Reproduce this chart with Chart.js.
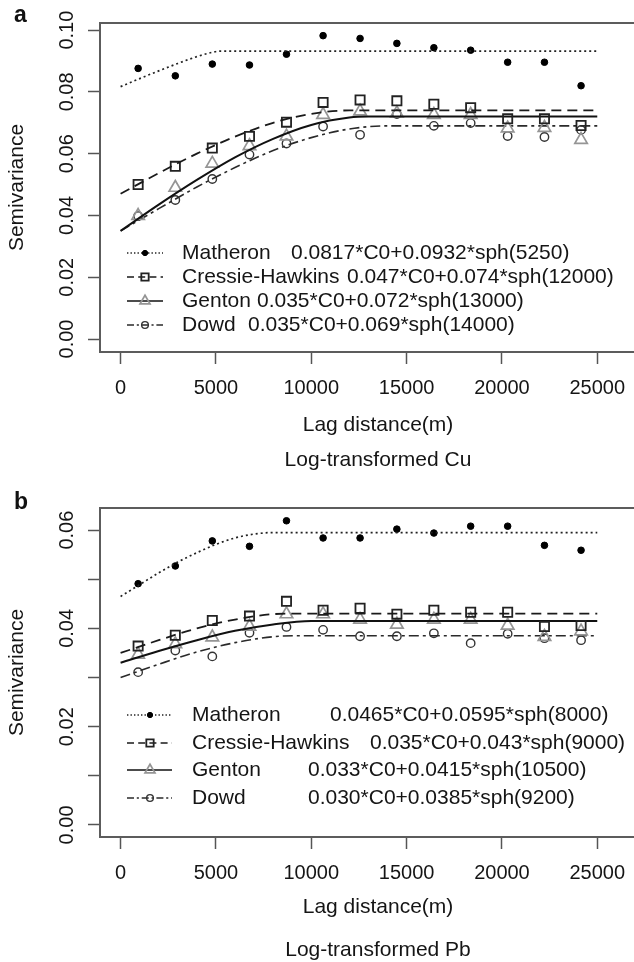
<!DOCTYPE html>
<html>
<head>
<meta charset="utf-8">
<script src="https://cdn.jsdelivr.net/npm/chart.js@4.4.1/dist/chart.umd.min.js"></script>
<style>
  html, body { margin: 0; padding: 0; background: #fff; }
  body { width: 634px; height: 962px; overflow: hidden; position: relative; font-family: "Liberation Sans", Arial, sans-serif; }
  .panel { position: absolute; left: 0; width: 690px; height: 481px; }
  .tag { position: absolute; left: 14px; font-weight: bold; font-size: 23px; color: #111; }
</style>
</head>
<body>
<div class="panel" style="top:0"><canvas id="chartCu" width="690" height="481"></canvas></div>
<div class="panel" style="top:481px"><canvas id="chartPb" width="690" height="481"></canvas></div>
<div class="tag" style="top:1px">a</div>
<div class="tag" style="top:488px">b</div>
<script>
const FONT = '"Liberation Sans", Arial, sans-serif';
const INK = '#151515';

// lag classes of the experimental semivariograms (m)
const lags = [920, 2870, 4810, 6760, 8700, 10620, 12560, 14490, 16430, 18360, 20300, 22230, 24150];
const xTicks = [0, 5000, 10000, 15000, 20000, 25000];

// a: log-transformed Cu
const matheronCu = [0.0876, 0.0852, 0.0890, 0.0887, 0.0922, 0.0982, 0.0973, 0.0957, 0.0943, 0.0935, 0.0896, 0.0896, 0.0820];
const cressieCu  = [0.0500, 0.0559, 0.0618, 0.0656, 0.0702, 0.0766, 0.0774, 0.0771, 0.0760, 0.0749, 0.0713, 0.0713, 0.0691];
const gentonCu   = [0.0399, 0.0490, 0.0568, 0.0625, 0.0656, 0.0726, 0.0737, 0.0731, 0.0726, 0.0726, 0.0682, 0.0684, 0.0645];
const dowdCu     = [0.0398, 0.0450, 0.0518, 0.0597, 0.0633, 0.0688, 0.0661, 0.0728, 0.0690, 0.0699, 0.0657, 0.0654, 0.0677];

// fitted spherical models
const matheronCuFitX = [0, 1000, 2000, 3000, 4000, 4800, 5250, 25000];
const matheronCuFitY = [0.0817, 0.0843, 0.0868, 0.0892, 0.0914, 0.0928, 0.0932, 0.0932];
const cressieCuFitX  = [0, 2000, 4000, 6000, 8000, 10000, 12000, 25000];
const cressieCuFitY  = [0.0470, 0.0537, 0.0600, 0.0655, 0.0700, 0.0729, 0.0740, 0.0740];
const gentonCuFitX   = [0, 2000, 4000, 6000, 8000, 10000, 12000, 13000, 25000];
const gentonCuFitY   = [0.0350, 0.0435, 0.0515, 0.0588, 0.0648, 0.0693, 0.0717, 0.0720, 0.0720];
const dowdCuFitX     = [0, 2000, 4000, 6000, 8000, 10000, 12000, 14000, 25000];
const dowdCuFitY     = [0.0350, 0.0422, 0.0492, 0.0555, 0.0610, 0.0652, 0.0680, 0.0690, 0.0690];

const yTicksCu  = [0, 0.02, 0.04, 0.06, 0.08, 0.10];
const yLabelsCu = ['0.00', '0.02', '0.04', '0.06', '0.08', '0.10'];
const eqCu = [
  '0.0817*C0+0.0932*sph(5250)',
  '0.047*C0+0.074*sph(12000)',
  '0.035*C0+0.072*sph(13000)',
  '0.035*C0+0.069*sph(14000)'
];

// b: log-transformed Pb
const matheronPb = [0.0491, 0.0527, 0.0578, 0.0567, 0.0619, 0.0584, 0.0584, 0.0602, 0.0594, 0.0608, 0.0608, 0.0569, 0.0559];
const cressiePb  = [0.0364, 0.0386, 0.0416, 0.0425, 0.0455, 0.0437, 0.0441, 0.0429, 0.0437, 0.0433, 0.0433, 0.0404, 0.0406];
const gentonPb   = [0.0347, 0.0368, 0.0382, 0.0404, 0.0429, 0.0429, 0.0418, 0.0408, 0.0418, 0.0418, 0.0406, 0.0383, 0.0394];
const dowdPb     = [0.0311, 0.0355, 0.0343, 0.0391, 0.0403, 0.0397, 0.0384, 0.0384, 0.0390, 0.0370, 0.0389, 0.0380, 0.0376];

const matheronPbFitX = [0, 1000, 2000, 3000, 4000, 5000, 6000, 7000, 8000, 25000];
const matheronPbFitY = [0.0465, 0.0489, 0.0513, 0.0535, 0.0554, 0.0571, 0.0584, 0.0592, 0.0595, 0.0595];
const cressiePbFitX  = [0, 2000, 4000, 6000, 8000, 9000, 25000];
const cressiePbFitY  = [0.0350, 0.0376, 0.0400, 0.0418, 0.0429, 0.0430, 0.0430];
const gentonPbFitX   = [0, 2000, 4000, 6000, 8000, 10000, 10500, 25000];
const gentonPbFitY   = [0.0330, 0.0354, 0.0376, 0.0395, 0.0408, 0.0415, 0.0415, 0.0415];
const dowdPbFitX     = [0, 2000, 4000, 6000, 8000, 9200, 25000];
const dowdPbFitY     = [0.0300, 0.0327, 0.0352, 0.0371, 0.0383, 0.0385, 0.0385];

const yTicksPb  = [0, 0.01, 0.02, 0.03, 0.04, 0.05, 0.06];
const yLabelsPb = ['0.00', '', '0.02', '', '0.04', '', '0.06'];
const eqPb = [
  '0.0465*C0+0.0595*sph(8000)',
  '0.035*C0+0.043*sph(9000)',
  '0.033*C0+0.0415*sph(10500)',
  '0.030*C0+0.0385*sph(9200)'
];

const methods = ['Matheron', 'Cressie-Hawkins', 'Genton', 'Dowd'];

// line and marker look per method (R lty 3, 2, 1, 4 / pch 20, 0, 2, 1)
const lineStyles = [
  { color: '#222', width: 1.7, dash: [2, 3] },
  { color: '#1a1a1a', width: 1.8, dash: [10, 6] },
  { color: '#111', width: 2, dash: [] },
  { color: '#2a2a2a', width: 1.6, dash: [10, 4, 3, 4] }
];
const markerStyles = [
  { style: 'circle', radius: 3.3, fill: '#000', stroke: '#000', width: 1 },
  { style: 'rect', radius: 6.5, fill: 'rgba(0,0,0,0)', stroke: '#222', width: 1.8 },
  { style: 'triangle', radius: 7.2, fill: 'rgba(0,0,0,0)', stroke: '#959595', width: 1.7 },
  { style: 'circle', radius: 4.2, fill: 'rgba(0,0,0,0)', stroke: '#333', width: 1.4 }
];

function toPoints(xs, ys) {
  return xs.map((x, i) => ({ x: x, y: ys[i] }));
}

function buildDatasets(points, fits) {
  const datasets = [];
  for (let i = 0; i < methods.length; i++) {
    const ls = lineStyles[i];
    const ms = markerStyles[i];
    datasets.push({
      label: methods[i] + ' fit',
      data: toPoints(fits[i][0], fits[i][1]),
      showLine: true,
      borderColor: ls.color,
      borderWidth: ls.width,
      borderDash: ls.dash,
      cubicInterpolationMode: 'monotone',
      pointRadius: 0,
      fill: false,
    });
    datasets.push({
      label: methods[i],
      data: toPoints(lags, points[i]),
      showLine: false,
      pointStyle: ms.style,
      pointRadius: ms.radius,
      pointBackgroundColor: ms.fill,
      pointBorderColor: ms.stroke,
      pointBorderWidth: ms.width,
    });
  }
  return datasets;
}

function drawMarker(ctx, ds, r, x, y) {
  ctx.setLineDash([]);
  ctx.fillStyle = ds.pointBackgroundColor;
  ctx.strokeStyle = ds.pointBorderColor;
  ctx.lineWidth = ds.pointBorderWidth;
  if (Chart.helpers && Chart.helpers.drawPoint) {
    Chart.helpers.drawPoint(ctx, { pointStyle: ds.pointStyle, rotation: 0, radius: r, borderWidth: ds.pointBorderWidth }, x, y);
    return;
  }
  ctx.beginPath();
  ctx.arc(x, y, r, 0, Math.PI * 2);
  ctx.fill();
  ctx.stroke();
}

// frame, rotated y labels (R style) and the in-plot legend
const panelPlugin = {
  id: 'panel',
  afterDraw(chart, args, opts) {
    const ctx = chart.ctx;
    const a = chart.chartArea;
    const y = chart.scales.y;
    ctx.save();
    ctx.setLineDash([]);
    ctx.strokeStyle = '#5c5c5c';
    ctx.lineWidth = 2;
    ctx.strokeRect(a.left, a.top, a.right - a.left, a.bottom - a.top);

    ctx.fillStyle = INK;
    ctx.font = '20px ' + FONT;
    ctx.textAlign = 'center';
    ctx.textBaseline = 'middle';
    y.ticks.forEach(t => {
      if (!t.label) return;
      ctx.save();
      ctx.translate(opts.yLabelX, y.getPixelForValue(t.value));
      ctx.rotate(-Math.PI / 2);
      ctx.fillText(t.label, 0, 0);
      ctx.restore();
    });

    const lg = opts.legend;
    const ds = chart.data.datasets;
    for (let i = 0; i < methods.length; i++) {
      const ry = lg.rows[i];
      const line = ds[2 * i];
      const pts = ds[2 * i + 1];
      ctx.setLineDash(line.borderDash.map(d => d * 0.7));
      ctx.strokeStyle = line.borderColor;
      ctx.lineWidth = line.borderWidth * 0.8;
      ctx.beginPath();
      ctx.moveTo(lg.lineX[0], ry);
      ctx.lineTo(lg.lineX[1], ry);
      ctx.stroke();
      drawMarker(ctx, pts, pts.pointRadius * 0.8, lg.markX, ry);

      ctx.fillStyle = INK;
      ctx.font = '21px ' + FONT;
      ctx.textAlign = 'left';
      ctx.textBaseline = 'middle';
      ctx.fillText(methods[i], lg.textX, ry);
      ctx.fillText(lg.eqs[i], lg.eqX[i], ry);
    }
    ctx.restore();
  }
};

function makeChart(id, p) {
  return new Chart(document.getElementById(id), {
    type: 'scatter',
    data: { datasets: buildDatasets(p.points, p.fits) },
    plugins: [panelPlugin],
    options: {
      responsive: false,
      animation: false,
      events: [],
      layout: { padding: { top: p.top, right: 34, left: 0, bottom: p.padBottom } },
      scales: {
        x: {
          type: 'linear',
          min: -1080,
          max: 28080,
          afterBuildTicks: s => { s.ticks = xTicks.map(v => ({ value: v })); },
          afterFit: s => { s.height = p.xHeight; },
          ticks: {
            callback: v => String(v),
            font: { family: FONT, size: 20 },
            color: INK,
            padding: p.xTickPad,
            maxRotation: 0,
            autoSkip: false,
          },
          grid: { drawOnChartArea: false, drawTicks: true, tickLength: 12, tickColor: '#555', tickWidth: 1.5 },
          border: { display: false },
          title: {
            display: true,
            text: 'Lag distance(m)',
            font: { family: FONT, size: 21, lineHeight: 1 },
            color: INK,
            padding: { top: 0, bottom: p.xTitlePad },
          },
        },
        y: {
          type: 'linear',
          min: p.yMin,
          max: p.yMax,
          afterBuildTicks: s => { s.ticks = p.yTicks.map(v => ({ value: v })); },
          afterFit: s => { s.width = 100; },
          ticks: {
            callback: (v, i) => p.yLabels[i],
            color: 'rgba(0,0,0,0)',
            font: { family: FONT, size: 20 },
            autoSkip: false,
          },
          grid: { drawOnChartArea: false, drawTicks: true, tickLength: 12, tickColor: '#555', tickWidth: 1.5 },
          border: { display: false },
          title: {
            display: true,
            text: 'Semivariance',
            font: { family: FONT, size: 21, lineHeight: 1 },
            color: INK,
            padding: { top: 7, bottom: 0 },
          },
        },
      },
      plugins: {
        legend: { display: false },
        tooltip: { enabled: false },
        subtitle: {
          display: true,
          position: 'bottom',
          fullSize: false,
          text: p.subtitle,
          font: { family: FONT, size: 21, weight: 'normal', lineHeight: 1 },
          color: INK,
          padding: 0,
        },
        panel: {
          yLabelX: 67,
          legend: p.legend,
        },
      },
    },
  });
}

makeChart('chartCu', {
  points: [matheronCu, cressieCu, gentonCu, dowdCu],
  fits: [[matheronCuFitX, matheronCuFitY], [cressieCuFitX, cressieCuFitY], [gentonCuFitX, gentonCuFitY], [dowdCuFitX, dowdCuFitY]],
  yMin: -0.0042, yMax: 0.1023,
  yTicks: yTicksCu, yLabels: yLabelsCu,
  top: 23, padBottom: 10.5, xHeight: 97.5, xTickPad: 12, xTitlePad: 14,
  subtitle: 'Log-transformed Cu',
  legend: { rows: [253, 277, 301, 325], lineX: [127, 163], markX: 145, textX: 182, eqX: [291, 347, 257, 248], eqs: eqCu },
});

makeChart('chartPb', {
  points: [matheronPb, cressiePb, gentonPb, dowdPb],
  fits: [[matheronPbFitX, matheronPbFitY], [cressiePbFitX, cressiePbFitY], [gentonPbFitX, gentonPbFitY], [dowdPbFitX, dowdPbFitY]],
  yMin: -0.00245, yMax: 0.0645,
  yTicks: yTicksPb, yLabels: yLabelsPb,
  top: 27, padBottom: 1.5, xHeight: 102.5, xTickPad: 12, xTitlePad: 22,
  subtitle: 'Log-transformed Pb',
  legend: { rows: [234, 262, 289, 317], lineX: [127, 172], markX: 150, textX: 192, eqX: [330, 370, 308, 308], eqs: eqPb },
});
</script>
</body>
</html>
